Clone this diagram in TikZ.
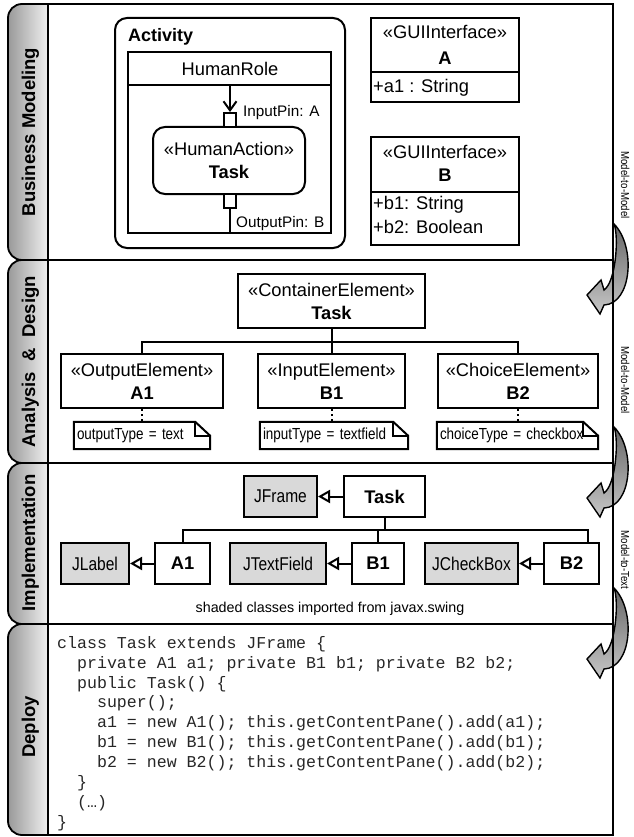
\documentclass[tikz,border=0pt]{standalone}
\usepackage{fontspec}
\setmainfont{Liberation Sans}
\setmonofont{Liberation Mono}
\newfontfamily\narrowfont{Liberation Sans}[FakeStretch=0.84]
\usetikzlibrary{arrows.meta}

\begin{document}
\begin{tikzpicture}[x=1pt,y=-1pt,
  lanebox/.style={draw=black, line width=1.8pt},
  lanetab/.style={draw=black, line width=1.8pt, rounded corners=14pt, left color=black!40, right color=black!6},
  tablabel/.style={rotate=90, anchor=base, inner sep=0pt, font=\fontsize{18.5}{22}\selectfont\bfseries},
  umlbox/.style={draw=black, line width=2pt, fill=white, inner sep=0pt, align=center, font=\fontsize{18.3}{23}\selectfont},
  swingbox/.style={umlbox, fill=black!15, font=\narrowfont\fontsize{18.5}{22}\selectfont},
  pin/.style={draw=black, line width=2pt, fill=white, minimum width=12pt, minimum height=14pt, inner sep=0pt},
  txt/.style={anchor=base, inner sep=0pt, font=\fontsize{18.3}{22}\selectfont},
  pinlabel/.style={anchor=base west, inner sep=0pt, font=\fontsize{15.3}{18}\selectfont},
  note/.style={inner xsep=3pt, inner ysep=0pt, minimum height=27pt, align=left, font=\narrowfont\fontsize{16}{18}\selectfont},
  link/.style={draw=black, line width=2pt},
  gen/.style={link, -{Triangle[fill=white, length=12pt, width=13pt]}},
  transform/.style={draw=black, line width=1.4pt, top color=black!60, bottom color=black!22},
  sidelabel/.style={rotate=-90, anchor=base, inner sep=0pt, font=\narrowfont\fontsize{11.5}{14}\selectfont},
  code/.style={anchor=north west, inner sep=0pt, align=left, text=black!85, font=\ttfamily\fontsize{16.6}{19.9}\selectfont}
]

\useasboundingbox (0,0) rectangle (633,837);

% lanes
\draw [lanetab] (48,4) -- (8,4) -- (8,260) -- (48,260);
\draw [lanetab] (48,260) -- (8,260) -- (8,463) -- (48,463);
\draw [lanetab] (48,463) -- (8,463) -- (8,624) -- (48,624);
\draw [lanetab] (48,624) -- (8,624) -- (8,835) -- (48,835);

\node [tablabel] (tabBusiness) at (35,132) {Business Modeling};
\node [tablabel] (tabAnalysis) at (35,362) {Analysis~~\&~~Design};
\node [tablabel] (tabImpl) at (35,543) {Implementation};
\node [tablabel] (tabDeploy) at (35,727) {Deploy};

% transformations
\draw [transform] (614,224) .. controls (619,236) and (616,282) .. (604,290) -- (601,280) -- (587,295) -- (600,314) -- (604,305) .. controls (632,304) and (636,246) .. (614,224) -- cycle;
\draw [transform] (614,427) .. controls (619,439) and (616,485) .. (604,493) -- (601,483) -- (587,498) -- (600,517) -- (604,508) .. controls (632,507) and (636,449) .. (614,427) -- cycle;
\draw [transform] (614,588) .. controls (619,600) and (616,646) .. (604,654) -- (601,644) -- (587,659) -- (600,678) -- (604,669) .. controls (632,668) and (636,610) .. (614,588) -- cycle;

\draw [lanebox] (48,4) rectangle (613,260);
\draw [lanebox] (48,260) rectangle (613,463);
\draw [lanebox] (48,463) rectangle (613,624);
\draw [lanebox] (48,624) rectangle (613,835);

\node [sidelabel] (m2m1) at (621,185) {Model-to-Model};
\node [sidelabel] (m2m2) at (621,380) {Model-to-Model};
\node [sidelabel] (m2t) at (621,560) {Model-to-Text};

% business modeling
\draw [link, rounded corners=12pt] (115,18) rectangle (345,248);
\node [txt, anchor=base west, font=\fontsize{18}{22}\selectfont\bfseries] (actLabel) at (128,41.5) {Activity};
\draw [link] (128,52) rectangle (331,233);
\draw [link] (128,85) -- (331,85);
\node [txt] (roleLabel) at (230,76) {HumanRole};

\node [umlbox, rounded corners=12pt, minimum width=152pt, minimum height=67pt] (humanAction) at (229,160.5) {«HumanAction»\\\textbf{Task}};
\node [pin] (inPin) at (230,120) {};
\node [pin] (outPin) at (230,201) {};
\node [pinlabel] (inPinLabel) at (243,117) {InputPin: A};
\node [pinlabel] (outPinLabel) at (236,227) {OutputPin: B};

\path (230,85) coordinate (roleSplit);
\path (230,233) coordinate (roleBottom);
\draw [link, -{Straight Barb[length=9pt, width=13pt]}] (roleSplit) -- (inPin.north);
\draw [link] (outPin.south) -- (roleBottom);

\node [umlbox, minimum width=148pt, minimum height=84pt] (guiA) at (445,60) {};
\draw [link] (371,72) -- (519,72);
\node [txt] (guiAStereo) at (445,39) {«GUIInterface»};
\node [txt, font=\fontsize{18.3}{22}\selectfont\bfseries] (guiAName) at (445,65) {A};
\node [txt, anchor=base west] (guiAAttr) at (373,93) {+a1 : String};

\node [umlbox, minimum width=148pt, minimum height=108pt] (guiB) at (445,191) {};
\draw [link] (371,192) -- (519,192);
\node [txt] (guiBStereo) at (445,159) {«GUIInterface»};
\node [txt, font=\fontsize{18.3}{22}\selectfont\bfseries] (guiBName) at (445,182) {B};
\node [txt, anchor=base west] (guiBAttr1) at (373,209) {+b1: String};
\node [txt, anchor=base west] (guiBAttr2) at (373,233) {+b2: Boolean};

% analysis & design
\node [umlbox, minimum width=187pt, minimum height=54pt] (anaTask) at (331.5,301) {«ContainerElement»\\\textbf{Task}};
\node [umlbox, minimum width=162pt, minimum height=54pt] (anaA1) at (142,381) {«OutputElement»\\\textbf{A1}};
\node [umlbox, minimum width=147pt, minimum height=54pt] (anaB1) at (331.5,381) {«InputElement»\\\textbf{B1}};
\node [umlbox, minimum width=160pt, minimum height=54pt] (anaB2) at (518,381) {«ChoiceElement»\\\textbf{B2}};

\path (331.5,342) coordinate (anaFork);
\draw [link] (anaTask.south) -- (anaFork);
\draw [link] (anaA1.north) |- (anaFork);
\draw [link] (anaB1.north) -- (anaFork);
\draw [link] (anaB2.north) |- (anaFork);

\node [note, text width=130pt] (noteA1) at (142,435.5) {outputType = text};
\node [note, text width=142pt] (noteB1) at (334,435.5) {inputType = textfield};
\node [note, text width=155pt] (noteB2) at (517.5,435.5) {choiceType = checkbox};

\draw [link] (noteA1.north west) -- ([xshift=-15pt]noteA1.north east) -- ([yshift=-14pt]noteA1.north east) -- (noteA1.south east) -- (noteA1.south west) -- cycle;
\draw [link] ([xshift=-15pt]noteA1.north east) |- ([yshift=-14pt]noteA1.north east);
\draw [link] (noteB1.north west) -- ([xshift=-15pt]noteB1.north east) -- ([yshift=-14pt]noteB1.north east) -- (noteB1.south east) -- (noteB1.south west) -- cycle;
\draw [link] ([xshift=-15pt]noteB1.north east) |- ([yshift=-14pt]noteB1.north east);
\draw [link] (noteB2.north west) -- ([xshift=-15pt]noteB2.north east) -- ([yshift=-14pt]noteB2.north east) -- (noteB2.south east) -- (noteB2.south west) -- cycle;
\draw [link] ([xshift=-15pt]noteB2.north east) |- ([yshift=-14pt]noteB2.north east);

\draw [link, dash pattern=on 2pt off 3pt] (anaA1.south) -- (noteA1.north);
\draw [link, dash pattern=on 2pt off 3pt] (anaB1.south) -- (noteB1.north -| anaB1.south);
\draw [link, dash pattern=on 2pt off 3pt] (anaB2.south) -- (noteB2.north -| anaB2.south);

% implementation
\node [swingbox, minimum width=73pt, minimum height=41pt] (jframe) at (280.5,496.5) {JFrame};
\node [umlbox, font=\fontsize{18.3}{22}\selectfont\bfseries, minimum width=81pt, minimum height=41pt] (implTask) at (384.5,496.5) {Task};
\node [swingbox, minimum width=68pt, minimum height=41pt] (jlabel) at (95,563.5) {JLabel};
\node [umlbox, font=\fontsize{18.3}{22}\selectfont\bfseries, minimum width=55pt, minimum height=41pt] (implA1) at (182.5,563.5) {A1};
\node [swingbox, minimum width=96pt, minimum height=41pt] (jtextfield) at (278,563.5) {JTextField};
\node [umlbox, font=\fontsize{18.3}{22}\selectfont\bfseries, minimum width=52pt, minimum height=41pt] (implB1) at (378,563.5) {B1};
\node [swingbox, minimum width=93pt, minimum height=41pt] (jcheckbox) at (471.5,563.5) {JCheckBox};
\node [umlbox, font=\fontsize{18.3}{22}\selectfont\bfseries, minimum width=55pt, minimum height=41pt] (implB2) at (571.5,563.5) {B2};

\draw [gen] (implTask) -- (jframe);
\draw [gen] (implA1) -- (jlabel);
\draw [gen] (implB1) -- (jtextfield);
\draw [gen] (implB2) -- (jcheckbox);

\path (384.5,530) coordinate (implFork);
\path (588,543) coordinate (implB2top);
\draw [link] (implTask.south) -- (implFork);
\draw [link] (implA1.north) |- (implFork);
\draw [link] (implB1.north) |- (implFork);
\draw [link] (implB2top) |- (implFork);

\node [txt, font=\fontsize{14.3}{17}\selectfont] (swingNote) at (330,612) {shaded classes imported from javax.swing};

% deploy
\node [code] (codeText) at (57,636) {class Task extends JFrame \{\\
\phantom{xx}private A1 a1; private B1 b1; private B2 b2;\\
\phantom{xx}public Task() \{\\
\phantom{xxxx}super();\\
\phantom{xxxx}a1 = new A1(); this.getContentPane().add(a1);\\
\phantom{xxxx}b1 = new B1(); this.getContentPane().add(b1);\\
\phantom{xxxx}b2 = new B2(); this.getContentPane().add(b2);\\
\phantom{xx}\}\\
\phantom{xx}(…)\\
\}};

\end{tikzpicture}
\end{document}
